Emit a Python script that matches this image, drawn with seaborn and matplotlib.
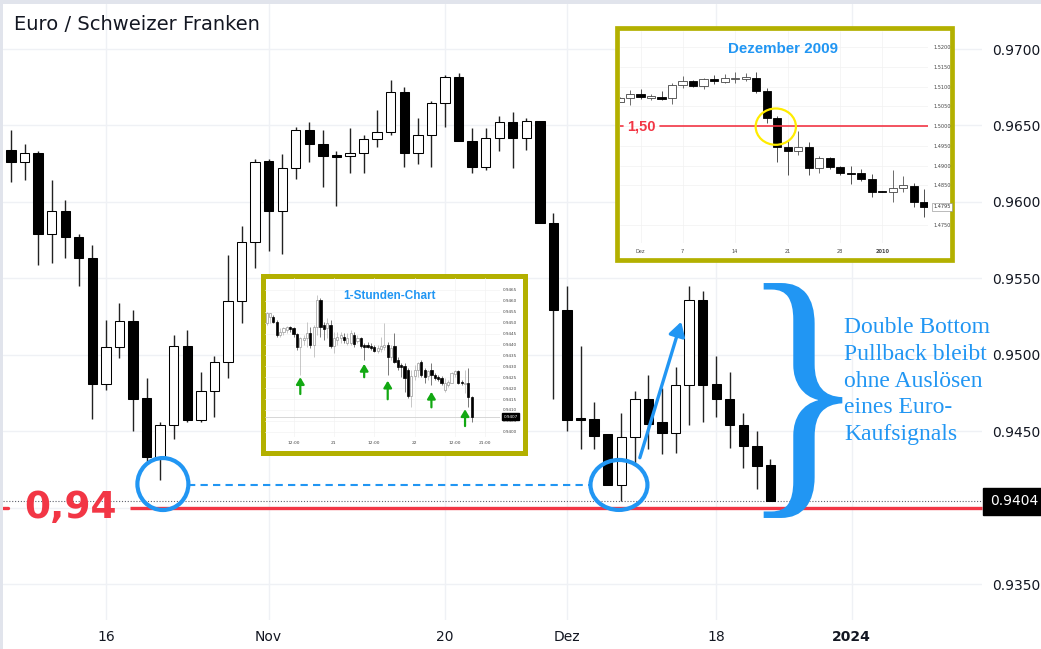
import numpy as np
import pandas as pd
import matplotlib
matplotlib.use("Agg")
import matplotlib.pyplot as plt
import seaborn as sns
from matplotlib.patches import Ellipse, Rectangle, PathPatch
from matplotlib.textpath import TextPath
from matplotlib.font_manager import FontProperties
from matplotlib.transforms import Affine2D, blended_transform_factory

# ---------------- main chart data (EUR/CHF daily) ----------------
main_open = [0.9634, 0.9626, 0.9632, 0.9579, 0.9594, 0.9577, 0.9563, 0.9481, 0.9505, 0.9522,
             0.9472, 0.9433, 0.9454, 0.9506, 0.9457, 0.9476, 0.9495, 0.9535, 0.9574, 0.9627,
             0.9594, 0.9622, 0.9647, 0.9638, 0.9630, 0.9630, 0.9632, 0.9641, 0.9646, 0.9672,
             0.9632, 0.9644, 0.9665, 0.9682, 0.9640, 0.9623, 0.9642, 0.9652, 0.9642, 0.9653,
             0.9586, 0.9529, 0.9458, 0.9458, 0.9448, 0.9415, 0.9446, 0.9471, 0.9456, 0.9449,
             0.9480, 0.9536, 0.9481, 0.9471, 0.9454, 0.9440, 0.9428]
main_high = [0.9647, 0.9638, 0.9633, 0.9614, 0.9601, 0.9579, 0.9572, 0.9523, 0.9534, 0.9529,
             0.9485, 0.9456, 0.9513, 0.9516, 0.9489, 0.9499, 0.9565, 0.9584, 0.9628, 0.9628,
             0.9631, 0.9649, 0.9652, 0.9647, 0.9633, 0.9648, 0.9644, 0.9660, 0.9680, 0.9675,
             0.9655, 0.9666, 0.9683, 0.9684, 0.9648, 0.9648, 0.9656, 0.9659, 0.9655, 0.9653,
             0.9593, 0.9545, 0.9506, 0.9469, 0.9448, 0.9462, 0.9476, 0.9487, 0.9478, 0.9492,
             0.9545, 0.9542, 0.9499, 0.9489, 0.9462, 0.9450, 0.9432]
main_low = [0.9613, 0.9614, 0.9559, 0.9560, 0.9563, 0.9545, 0.9458, 0.9477, 0.9498, 0.9450,
            0.9430, 0.9418, 0.9445, 0.9456, 0.9456, 0.9459, 0.9485, 0.9521, 0.9557, 0.9568,
            0.9566, 0.9615, 0.9626, 0.9610, 0.9597, 0.9619, 0.9619, 0.9636, 0.9644, 0.9623,
            0.9625, 0.9623, 0.9649, 0.9640, 0.9619, 0.9621, 0.9633, 0.9622, 0.9634, 0.9586,
            0.9471, 0.9450, 0.9438, 0.9438, 0.9415, 0.9404, 0.9429, 0.9438, 0.9435, 0.9436,
            0.9454, 0.9456, 0.9459, 0.9439, 0.9426, 0.9412, 0.9404]
main_close = [0.9626, 0.9632, 0.9579, 0.9594, 0.9577, 0.9563, 0.9481, 0.9505, 0.9522, 0.9471,
              0.9433, 0.9454, 0.9506, 0.9457, 0.9476, 0.9495, 0.9535, 0.9574, 0.9626, 0.9594,
              0.9622, 0.9647, 0.9638, 0.9630, 0.96298, 0.9632, 0.9641, 0.9646, 0.9672, 0.9632,
              0.9644, 0.9665, 0.9682, 0.9640, 0.9623, 0.9642, 0.9652, 0.9642, 0.9653, 0.9586,
              0.9529, 0.9457, 0.94578, 0.9447, 0.9415, 0.9446, 0.9471, 0.9455, 0.9449, 0.9480,
              0.9536, 0.9480, 0.9471, 0.9454, 0.9440, 0.9427, 0.9404]
main_first_day = "2023-10-05"
main_tick_dates = ["2023-10-16", "2023-11-01", "2023-11-20", "2023-12-01", "2023-12-18", "2024-01-01"]
main_tick_labels = ["16", "Nov", "20", "Dez", "18", "2024"]
main_price_ticks = [0.9350, 0.9400, 0.9450, 0.9500, 0.9550, 0.9600, 0.9650, 0.9700]
support_level = 0.94

# ---------------- inset: Dezember 2009 (EUR/CHF daily) ----------------
dez_open = [1.5062, 1.5071, 1.5082, 1.5072, 1.5075, 1.5071, 1.5104, 1.5115, 1.5102, 1.5119,
            1.5113, 1.5119, 1.5120, 1.5123, 1.5090, 1.5020, 1.4948, 1.4937, 1.4948, 1.4893,
            1.4918, 1.4897, 1.4880, 1.4880, 1.4865, 1.4834, 1.4834, 1.4842, 1.4849, 1.4807]
dez_high = [1.5073, 1.5092, 1.5093, 1.5082, 1.5089, 1.5109, 1.5127, 1.5117, 1.5121, 1.5130,
            1.5132, 1.5138, 1.5134, 1.5137, 1.5096, 1.5026, 1.4965, 1.4988, 1.4959, 1.4923,
            1.4921, 1.4900, 1.4900, 1.4891, 1.4878, 1.4836, 1.4889, 1.4874, 1.4855, 1.4840]
dez_low = [1.5060, 1.5054, 1.5068, 1.5066, 1.5066, 1.5055, 1.5096, 1.5100, 1.5093, 1.5107,
           1.5109, 1.5109, 1.5115, 1.5085, 1.5009, 1.4910, 1.4876, 1.4927, 1.4876, 1.4880,
           1.4891, 1.4876, 1.4852, 1.4861, 1.4821, 1.4832, 1.4808, 1.4834, 1.4796, 1.4770]
dez_close = [1.5071, 1.5082, 1.5073, 1.5076, 1.5070, 1.5104, 1.5115, 1.5101, 1.5119, 1.5115,
             1.5121, 1.5121, 1.5124, 1.5090, 1.5020, 1.4948, 1.4937, 1.4948, 1.4895, 1.4920,
             1.4897, 1.4880, 1.48795, 1.4865, 1.4833, 1.48338, 1.4842, 1.4851, 1.4807, 1.4795]
dez_first_day = "2009-11-27"
dez_tick_dates = ["2009-12-01", "2009-12-07", "2009-12-14", "2009-12-21", "2009-12-28", "2010-01-01"]
dez_tick_labels = ["Dez", "7", "14", "21", "28", "2010"]
dez_price_ticks = [1.4750, 1.4850, 1.4900, 1.4950, 1.5000, 1.5050, 1.5100, 1.5150, 1.5200]
dez_level = 1.50

# ---------------- inset: 1-Stunden-Chart ----------------
hr_open = [.94497, .94528, .94528, .94505, .94444, .94459, .94467, .94479, .94474, .94448,
           .94387, .94421, .94428, .94451, .94398, .94482, .94604, .94489, .94474, .94489,
           .94393, .94421, .94428, .94436, .94408, .94408, .94444, .94418, .94428, .94396,
           .94398, .94393, .94387, .94372, .94378, .94390, .94398, .94341, .94393, .94329,
           .94306, .94301, .94283, .94164, .94255, .94283, .94321, .94283, .94255, .94283,
           .94260, .94252, .94245, .94191, .94214, .94225, .94265, .94280, .94230, .94219,
           .94225, .94158]
hr_high = [.94551, .94546, .94535, .94512, .94474, .94482, .94485, .94485, .94479, .94454,
           .94436, .94444, .94505, .94482, .94489, .94627, .94612, .94505, .94520, .94512,
           .94459, .94459, .94459, .94451, .94451, .94467, .94459, .94444, .94436, .94405,
           .94413, .94405, .94398, .94398, .94436, .94500, .94413, .94398, .94451, .94344,
           .94314, .94314, .94291, .94283, .94306, .94321, .94329, .94291, .94283, .94314,
           .94268, .94260, .94255, .94245, .94237, .94275, .94283, .94283, .94237, .94283,
           .94291, .94164]
hr_low = [.94489, .94497, .94497, .94436, .94436, .94444, .94451, .94459, .94436, .94375,
          .94260, .94398, .94390, .94382, .94344, .94444, .94436, .94421, .94428, .94382,
          .94359, .94398, .94405, .94408, .94398, .94398, .94390, .94405, .94382, .94329,
          .94382, .94375, .94367, .94363, .94367, .94375, .94260, .94329, .94314, .94283,
          .94252, .94184, .94153, .94112, .94237, .94252, .94252, .94222, .94237, .94214,
          .94237, .94234, .94214, .94184, .94207, .94222, .94252, .94219, .94214, .94176,
          .94115, .94046]
hr_close = [.94543, .94543, .94505, .94444, .94459, .94474, .94479, .94470, .94448, .94387,
            .94428, .94428, .94451, .94398, .94482, .94604, .94482, .94470, .94497, .94393,
            .94428, .94436, .94444, .94421, .94428, .94451, .94402, .94428, .94393, .94387,
            .94390, .94382, .94372, .94382, .94393, .94398, .94341, .94382, .94321, .94295,
            .94298, .94245, .94164, .94255, .94283, .94317, .94260, .94252, .94280, .94260,
            .94245, .94240, .94222, .94222, .94230, .94268, .94280, .94225, .94222, .94225,
            .94161, .94069]
hr_first_hour = "2023-11-20 04:00"
hr_tick_times = ["2023-11-20 12:00", "2023-11-21 00:00", "2023-11-21 12:00",
                 "2023-11-22 00:00", "2023-11-22 12:00", "2023-11-22 21:00"]
hr_tick_labels = ["12:00", "21", "12:00", "22", "12:00", "21:00"]
hr_price_ticks = [0.9400, 0.9405, 0.9410, 0.9415, 0.9420, 0.9425, 0.9430, 0.9435,
                  0.9440, 0.9445, 0.9450, 0.9455, 0.9460, 0.9465]
hr_arrow_bars = [10, 29, 36, 49, 59]
hr_arrow_tip = [0.94250, 0.94311, 0.94234, 0.94183, 0.94103]
hr_arrow_tail = [0.94173, 0.94250, 0.94149, 0.94112, 0.94026]

annotation_text = "Double Bottom\nPullback bleibt\nohne Auslösen\neines Euro-\nKaufsignals"

# ---------------- styling ----------------
sns.set_theme(style="white")
plt.rcParams["font.family"] = ["DejaVu Sans"]

W, H = 1041, 649
BLUE = "#2196f3"
RED = "#f23645"
OLIVE = "#b3b000"
TXT = "#131722"
GRID = "#eff1f5"

fig = plt.figure(figsize=(W / 100, H / 100), dpi=100)
fig.patch.set_facecolor("white")


def rect(x0, y0, x1, y1):
    return [x0 / W, 1 - y1 / H, (x1 - x0) / W, (y1 - y0) / H]


def draw_candles(ax, o, h, l, c, width, up_face, up_edge, dn_face, dn_edge,
                 up_wick, dn_wick, lw_body, lw_wick, min_h):
    o, h, l, c = map(np.asarray, (o, h, l, c))
    x = np.arange(len(o))
    up = c >= o
    body = np.abs(c - o)
    height = np.maximum(body, min_h)
    bottom = np.where(body < min_h, (o + c) / 2 - min_h / 2, np.minimum(o, c))
    ax.vlines(x, l, h, colors=[up_wick if u else dn_wick for u in up], lw=lw_wick, zorder=2)
    ax.bar(x, height, width, bottom,
           color=[up_face if u else dn_face for u in up],
           edgecolor=[up_edge if u else dn_edge for u in up],
           linewidth=lw_body, zorder=3)


def clean(ax):
    for s in ax.spines.values():
        s.set_visible(False)


# light panel borders
fig.add_artist(Rectangle((0, 1 - 4 / H), 1, 4 / H, transform=fig.transFigure,
                         fc="#e1e4ec", ec="none", zorder=0.5))
fig.add_artist(Rectangle((0, 0), 3 / W, 1, transform=fig.transFigure,
                         fc="#e1e4ec", ec="none", zorder=0.5))

# ---------------- main axes ----------------
ax = fig.add_axes(rect(3, 4, 982, 620))
clean(ax)
ax.set_xlim(-0.59, 71.6)
ax.set_ylim(0.932645, 0.972944)

main_days = pd.bdate_range(main_first_day, periods=80)
xt = main_days.get_indexer(pd.to_datetime(main_tick_dates))
ax.set_xticks(xt)
ax.set_xticklabels(main_tick_labels)
ax.set_yticks(main_price_ticks)
ax.set_yticklabels(["" if abs(v - support_level) < 1e-9 else f"{v:.4f}" for v in main_price_ticks])
ax.yaxis.tick_right()
ax.tick_params(axis="y", length=0, pad=7.5, labelsize=10, labelcolor=TXT)
ax.tick_params(axis="x", length=0, pad=7, labelsize=10, labelcolor=TXT)
ax.get_xticklabels()[-1].set_fontweight("bold")
ax.grid(True, color=GRID, lw=1.0)
ax.set_axisbelow(True)

draw_candles(ax, main_open, main_high, main_low, main_close, 0.69,
             "white", "black", "black", "black", "#222222", "#222222", 0.75, 1.0, 0.0001)

# support line 0,94
ax.plot([8.78, 71.6], [support_level, support_level], color=RED, lw=2.4, zorder=4,
        solid_capstyle="butt", clip_on=False)
ax.plot([-0.59, -0.22], [support_level, support_level], color=RED, lw=2.4, zorder=4)
ax.text(1.0, support_level, "0,94", fontsize=27, fontweight="bold", color=RED,
        va="center", ha="left", zorder=6)

# last price dotted line and label
ax.axhline(main_close[-1], color="#5d606b", lw=0.8, ls=(0, (1, 1.6)), zorder=1.5)
tr_main = blended_transform_factory(ax.transAxes, ax.transData)
ax.text((990 - 3) / 979, main_close[-1], f"{main_close[-1]:.4f}", transform=tr_main,
        ha="left", va="center", fontsize=10, color="white", clip_on=False, zorder=10,
        bbox=dict(boxstyle="square,pad=0.5", fc="black", ec="black"))

# double bottom circles + dashed line + arrow
ax.add_patch(Ellipse((11.2, 0.94154), 3.76, 0.0034, fill=False, ec=BLUE, lw=3, zorder=5))
ax.add_patch(Ellipse((44.83, 0.94148), 4.2, 0.00327, fill=False, ec=BLUE, lw=3, zorder=5))
ax.plot([13.06, 42.73], [0.94148, 0.94148], color=BLUE, lw=1.5, ls=(0, (3.5, 2.5)), zorder=5)
ax.annotate("", xy=(49.42, 0.95216), xytext=(46.37, 0.94326), xycoords="data",
            arrowprops=dict(arrowstyle="-|>,head_length=0.6,head_width=0.35", color=BLUE,
                            lw=2.4, shrinkA=0, shrinkB=0, mutation_scale=14), zorder=6)

# curly brace
tp = TextPath((0, 0), "}", size=1, prop=FontProperties(family="Liberation Serif"))
bb = tp.get_extents()
bx0, bx1, by0, by1 = 55.5, 61.3, 0.93932, 0.95469
tr_b = (Affine2D().translate(-bb.x0, -bb.y0)
        .scale((bx1 - bx0) / bb.width, (by1 - by0) / bb.height).translate(bx0, by0))
ax.add_patch(PathPatch(tr_b.transform_path(tp), fc=BLUE, ec="none", zorder=6))

fig.text(844 / W, 1 - 317 / H, annotation_text, family="Liberation Serif", fontsize=17,
         color=BLUE, va="top", ha="left", linespacing=1.36)

fig.text(14 / W, 1 - 25 / H, "Euro / Schweizer Franken", fontsize=14, color=TXT, va="center")

# ---------------- inset: Dezember 2009 ----------------
fig.add_artist(Rectangle((617 / W, 1 - 259.5 / H), (952.5 - 617) / W, (259.5 - 28.3) / H,
                         transform=fig.transFigure, fc="white", ec=OLIVE, lw=3.4, zorder=1.5))
axd = fig.add_axes(rect(619.5, 31, 928, 243))
axd.set_zorder(3)
axd.patch.set_alpha(0)
clean(axd)
axd.set_xlim(0, 29.35)
axd.set_ylim(1.47035, 1.52414)
dez_days = pd.bdate_range(dez_first_day, periods=40)
axd.set_xticks(dez_days.get_indexer(pd.to_datetime(dez_tick_dates)))
axd.set_xticklabels(dez_tick_labels)
axd.get_xticklabels()[-1].set_fontweight("bold")
axd.set_yticks(dez_price_ticks)
axd.set_yticklabels([f"{v:.4f}" for v in dez_price_ticks])
axd.yaxis.tick_right()
axd.tick_params(axis="y", length=0, pad=3.6, labelsize=3.6, labelcolor="#444444")
axd.tick_params(axis="x", length=0, pad=4.0, labelsize=3.6, labelcolor="#444444")
axd.grid(True, color="#f2f2f2", lw=0.5)
axd.set_axisbelow(True)
draw_candles(axd, dez_open, dez_high, dez_low, dez_close, 0.78,
             "white", "#444444", "black", "black", "#555555", "#333333", 0.6, 0.6, 0.00012)
axd.plot([3.9, 29.35], [dez_level, dez_level], color=RED, lw=1.2, zorder=4)
axd.plot([0.0, 0.3], [dez_level, dez_level], color=RED, lw=1.2, zorder=4)
axd.text(2.09, dez_level, "1,50", fontsize=10.5, fontweight="bold", color=RED,
         family="Liberation Sans", ha="center", va="center", zorder=5)
axd.add_patch(Ellipse((14.87, 1.49987), 3.83, 0.00922, fill=False, ec="#ffec00", lw=1.6, zorder=5))
tr_d = blended_transform_factory(axd.transAxes, axd.transData)
axd.text(1 + 5.5 / 308.5, dez_close[-1], f"{dez_close[-1]:.4f}", transform=tr_d, fontsize=3.6,
         color="#333333", ha="left", va="center", clip_on=False,
         bbox=dict(boxstyle="square,pad=0.3", fc="white", ec="#888888", lw=0.4))
fig.text(783 / W, 1 - 49 / H, "Dezember 2009", fontsize=10.9, fontweight="bold", color=BLUE,
         family="Liberation Sans", ha="center", va="center", zorder=5)

# ---------------- inset: 1-Stunden-Chart ----------------
fig.add_artist(Rectangle((262.5 / W, 1 - 452.5 / H), (524.5 - 262.5) / W, (452.5 - 275.5) / H,
                         transform=fig.transFigure, fc="white", ec=OLIVE, lw=3.6, zorder=1.5))
axh = fig.add_axes(rect(265, 278, 500, 437))
axh.set_zorder(3)
axh.patch.set_alpha(0)
clean(axh)
axh.set_xlim(-0.5, 69.4)
axh.set_ylim(0.93976, 0.94705)
hours = pd.date_range(hr_first_hour, periods=80, freq="h")
axh.set_xticks(hours.get_indexer(pd.to_datetime(hr_tick_times)))
axh.set_xticklabels(hr_tick_labels)
axh.set_yticks(hr_price_ticks)
axh.set_yticklabels([f"{v:.4f}" for v in hr_price_ticks])
axh.yaxis.tick_right()
axh.tick_params(axis="y", length=0, pad=2.2, labelsize=3.0, labelcolor="#444444")
axh.tick_params(axis="x", length=0, pad=3.0, labelsize=3.2, labelcolor="#444444")
axh.grid(True, color="#f3f3f3", lw=0.5)
axh.set_axisbelow(True)
draw_candles(axh, hr_open, hr_high, hr_low, hr_close, 0.65,
             "white", "#9a9a9a", "black", "black", "#b0b0b0", "#444444", 0.5, 0.5, 0.00003)
axh.axhline(hr_close[-1], color="#d0d0d0", lw=0.6, zorder=1)
tr_h = blended_transform_factory(axh.transAxes, axh.transData)
axh.text(1 + 3.5 / 235, hr_close[-1], f"{hr_close[-1]:.4f}", transform=tr_h, fontsize=3.0,
         color="white", ha="left", va="center", clip_on=False,
         bbox=dict(boxstyle="square,pad=0.3", fc="black", ec="black"))
for i, tip, tail in zip(hr_arrow_bars, hr_arrow_tip, hr_arrow_tail):
    axh.annotate("", xy=(i, tip), xytext=(i, tail),
                 arrowprops=dict(arrowstyle="-|>,head_length=0.5,head_width=0.3", color="#12a812",
                                 lw=1.6, shrinkA=0, shrinkB=0, mutation_scale=8), zorder=6)
fig.text(389 / W, 1 - 296 / H, "1-Stunden-Chart", fontsize=8.5, fontweight="bold", color=BLUE,
         family="Liberation Sans", ha="center", va="center", zorder=5)

fig.savefig("out.png", dpi=100, facecolor=fig.get_facecolor())
